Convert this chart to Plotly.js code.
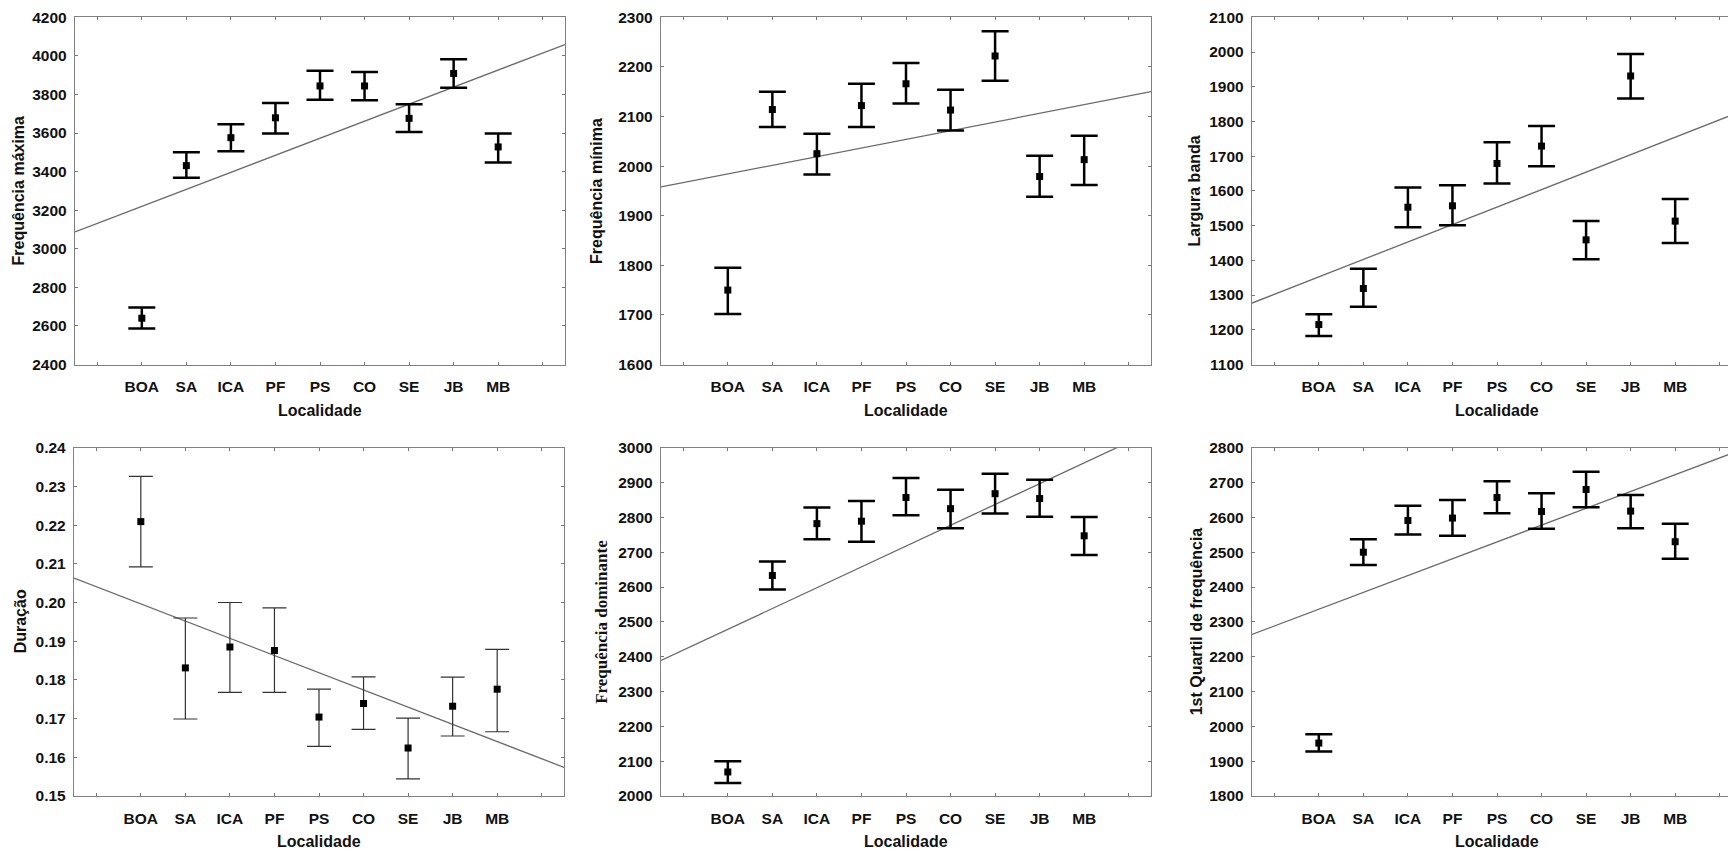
<!DOCTYPE html>
<html>
<head>
<meta charset="utf-8">
<script src="https://cdn.plot.ly/plotly-3.0.1.min.js"></script>
<style>
  html, body { margin: 0; padding: 0; background: #ffffff; }
  #chart { width: 1728px; height: 849px; }
</style>
</head>
<body>
<div id="chart"></div>
<script>
// ---------- DATA ----------
const categories = ['BOA', 'SA', 'ICA', 'PF', 'PS', 'CO', 'SE', 'JB', 'MB'];
const xTitle = 'Localidade';
const trendX = [-0.5, 10.5];

const freqMaxTitle = 'Frequência máxima';
const freqMaxMean  = [2640, 3431, 3576, 3679, 3844, 3844, 3676, 3909, 3528];
const freqMaxUpper = [2695, 3500, 3646, 3756, 3923, 3916, 3749, 3982, 3598];
const freqMaxLower = [2587, 3368, 3505, 3598, 3772, 3770, 3605, 3835, 3447];
const freqMaxTrend = [3087, 4059];

const freqMinTitle = 'Frequência mínima';
const freqMinMean  = [1750, 2114, 2025, 2122, 2166, 2113, 2222, 1979, 2013];
const freqMinUpper = [1795, 2150, 2065, 2166, 2208, 2154, 2272, 2021, 2061];
const freqMinLower = [1702, 2079, 1983, 2079, 2126, 2072, 2172, 1938, 1962];
const freqMinTrend = [1958, 2150];

const larguraTitle = 'Largura banda';
const larguraMean  = [1215, 1319, 1553, 1557, 1679, 1729, 1459, 1931, 1513];
const larguraUpper = [1245, 1376, 1610, 1616, 1740, 1787, 1513, 1994, 1577];
const larguraLower = [1182, 1266, 1495, 1501, 1621, 1671, 1403, 1866, 1450];
const larguraTrend = [1277, 1830];

const duracaoTitle = 'Duração';
const duracaoMean  = [0.2209, 0.1831, 0.1885, 0.1876, 0.1704, 0.1739, 0.1624, 0.1732, 0.1776];
const duracaoUpper = [0.2326, 0.1960, 0.2000, 0.1986, 0.1776, 0.1808, 0.1701, 0.1807, 0.1879];
const duracaoLower = [0.2092, 0.1699, 0.1768, 0.1768, 0.1628, 0.1672, 0.1544, 0.1655, 0.1666];
const duracaoTrend = [0.2063, 0.1574];

const dominTitle = 'Frequência dominante';
const dominMean  = [2069, 2633, 2782, 2789, 2857, 2825, 2868, 2854, 2747];
const dominUpper = [2100, 2673, 2828, 2847, 2913, 2879, 2925, 2908, 2801];
const dominLower = [2037, 2593, 2737, 2730, 2806, 2769, 2811, 2802, 2692];
const dominTrend = [2389, 3046];

const quartilTitle = '1st Quartil de frequência';
const quartilMean  = [1952, 2500, 2591, 2598, 2657, 2617, 2680, 2618, 2530];
const quartilUpper = [1977, 2537, 2633, 2650, 2704, 2669, 2731, 2664, 2582];
const quartilLower = [1928, 2463, 2551, 2547, 2612, 2567, 2629, 2569, 2481];
const quartilTrend = [2264, 2795];

// ---------- LAYOUT HELPERS ----------
const W = 1728, H = 849;
const SANS = 'Liberation Sans, Arial, sans-serif';
const SERIF = 'Liberation Serif, Times New Roman, serif';
const xpos = categories.map((c, i) => i + 1);
const tickPositions = [0].concat(xpos, [categories.length + 1]);
const tickLabels = [''].concat(categories, ['']);

const panels = [
  { title: freqMaxTitle, mean: freqMaxMean, up: freqMaxUpper, lo: freqMaxLower, trend: freqMaxTrend,
    yr: [2400, 4200], dtick: 200, fmt: 'd', px: [75, 565], py: [17.3, 364.5], ytx: 18.5, thick: 2.5, cap: 13.5, font: SANS },
  { title: freqMinTitle, mean: freqMinMean, up: freqMinUpper, lo: freqMinLower, trend: freqMinTrend,
    yr: [1600, 2300], dtick: 100, fmt: 'd', px: [661, 1151], py: [17.3, 364.5], ytx: 597, thick: 2.5, cap: 13.5, font: SANS },
  { title: larguraTitle, mean: larguraMean, up: larguraUpper, lo: larguraLower, trend: larguraTrend,
    yr: [1100, 2100], dtick: 100, fmt: 'd', px: [1252, 1742], py: [17.3, 364.5], ytx: 1194.5, thick: 2.5, cap: 13.5, font: SANS, cut: true },
  { title: duracaoTitle, mean: duracaoMean, up: duracaoUpper, lo: duracaoLower, trend: duracaoTrend,
    yr: [0.15, 0.24], dtick: 0.01, fmt: '.2f', px: [74, 564], py: [447.7, 796], ytx: 20.5, thick: 1.2, cap: 12, font: SANS, thinColor: '#333' },
  { title: dominTitle, mean: dominMean, up: dominUpper, lo: dominLower, trend: dominTrend,
    yr: [2000, 3000], dtick: 100, fmt: 'd', px: [661, 1151], py: [447.7, 796], ytx: 602, thick: 2.5, cap: 13.5, font: SERIF },
  { title: quartilTitle, mean: quartilMean, up: quartilUpper, lo: quartilLower, trend: quartilTrend,
    yr: [1800, 2800], dtick: 100, fmt: 'd', px: [1252, 1742], py: [447.7, 796], ytx: 1196.5, thick: 2.5, cap: 13.5, font: SANS, cut: true }
];

const traces = [];
const layout = {
  width: W, height: H,
  margin: { l: 0, r: 0, t: 0, b: 0 },
  paper_bgcolor: '#ffffff', plot_bgcolor: '#ffffff',
  showlegend: false,
  annotations: []
};

panels.forEach((p, k) => {
  const n = k + 1;
  const xa = 'x' + (n === 1 ? '' : n), ya = 'y' + (n === 1 ? '' : n);
  const xKey = 'xaxis' + (n === 1 ? '' : n), yKey = 'yaxis' + (n === 1 ? '' : n);
  const pxPerUnit = (p.px[1] - p.px[0]) / 11;
  const rightPx = Math.min(p.px[1], W);
  const xRange = [-0.5, -0.5 + (rightPx - p.px[0]) / pxPerUnit];
  const errColor = p.thinColor || '#000000';

  // trend line
  traces.push({
    type: 'scatter', mode: 'lines', x: trendX, y: p.trend, xaxis: xa, yaxis: ya,
    line: { color: '#6a6a6a', width: 1.3 }, hoverinfo: 'skip'
  });
  // means with error bars
  traces.push({
    type: 'scatter', mode: 'markers', x: xpos, y: p.mean, xaxis: xa, yaxis: ya,
    marker: { symbol: 'square', size: 7, color: '#000000' },
    error_y: {
      type: 'data', symmetric: false,
      array: p.up.map((u, i) => u - p.mean[i]),
      arrayminus: p.lo.map((l, i) => p.mean[i] - l),
      color: errColor, thickness: p.thick, width: p.cap
    },
    cliponaxis: false
  });

  layout[xKey] = {
    domain: [p.px[0] / W, rightPx / W],
    range: xRange,
    anchor: ya,
    tickmode: 'array', tickvals: tickPositions, ticktext: tickLabels,
    ticks: 'inside', ticklen: 3, tickwidth: 1, tickcolor: '#777',
    showline: true, linecolor: '#808080', linewidth: 1.2, mirror: 'allticks',
    showgrid: false, zeroline: false, fixedrange: true,
    ticklabelstandoff: 8,
    tickfont: { family: SANS, size: 15.5, color: '#111', weight: 'bold' }
  };
  layout[yKey] = {
    domain: [1 - p.py[1] / H, 1 - p.py[0] / H],
    range: p.yr,
    anchor: xa,
    tick0: p.yr[0], dtick: p.dtick, tickformat: p.fmt,
    ticks: 'inside', ticklen: 3, tickwidth: 1, tickcolor: '#777',
    showline: true, linecolor: '#808080', linewidth: 1.2, mirror: p.cut ? false : 'allticks',
    showgrid: false, zeroline: false, fixedrange: true,
    ticklabelstandoff: 4,
    tickfont: { family: SANS, size: 15.5, color: '#111', weight: 'bold' }
  };

  // y title
  layout.annotations.push({
    xref: 'paper', yref: 'paper', showarrow: false, textangle: -90,
    x: p.ytx / W, y: 1 - ((p.py[0] + p.py[1]) / 2) / H, xanchor: 'center', yanchor: 'middle',
    text: p.title,
    font: { family: p.font, size: p.font === SERIF ? 17 : 16, color: '#111', weight: 'bold' }
  });
  // x title
  layout.annotations.push({
    xref: 'paper', yref: 'paper', showarrow: false,
    x: ((p.px[0] + p.px[1]) / 2) / W, y: 1 - (p.py[1] + 45.5) / H, xanchor: 'center', yanchor: 'middle',
    text: xTitle,
    font: { family: SANS, size: 16, color: '#111', weight: 'bold' }
  });
});

Plotly.newPlot('chart', traces, layout, { displayModeBar: false, staticPlot: true });
</script>
</body>
</html>
